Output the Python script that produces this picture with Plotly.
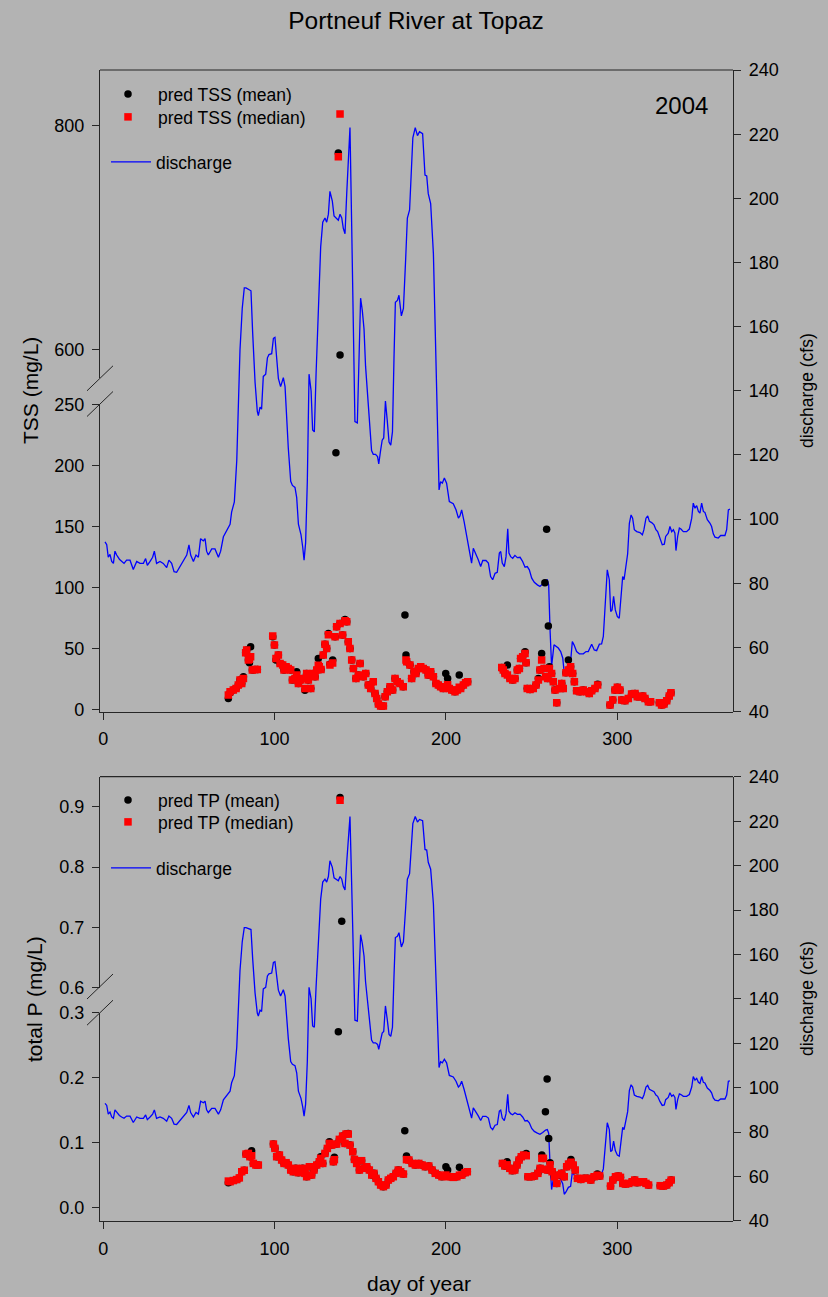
import plotly.graph_objects as go

W, H = 828, 1297


def px(x):
    return x / W


def py(y):
    return 1 - y / H


# ---------------- data ----------------
q_day = [1.0, 2.0, 2.9, 3.9, 4.9, 5.9, 6.8, 7.8, 9.4, 10.7, 12.1, 13.6, 15.6, 17.5, 19.5, 21.4, 23.4, 24.7,
         25.7, 27.3, 28.8, 29.8, 31.1, 33.1, 35.0, 37.0, 38.3, 39.9, 41.3, 42.8, 44.8, 46.7, 48.7, 50.0, 51.0,
         52.6, 54.1, 55.5, 56.8, 58.4, 59.4, 60.3, 61.3, 63.3, 65.2, 67.2, 68.5, 70.1, 72.0, 74.0, 74.9, 76.5,
         77.9, 78.8, 79.8, 81.1, 82.3, 83.3, 86.2, 87.2, 88.6, 89.9, 90.5, 91.5, 92.4, 93.4, 94.8, 95.8, 96.7,
         98.3, 99.3, 100.2, 101.2, 102.2, 103.5, 105.1, 106.1, 107.0, 108.0, 109.4, 110.4, 111.9, 112.9, 113.9,
         115.4, 116.4, 117.2, 118.1, 119.1, 120.1, 121.3, 122.2, 123.2, 124.2, 125.5, 126.9, 128.1, 129.4,
         130.4, 131.4, 132.3, 133.7, 134.7, 135.6, 137.2, 138.2, 139.2, 140.1, 141.1, 142.1, 143.0, 144.0,
         145.0, 146.0, 146.9, 148.3, 149.3, 150.2, 151.2, 152.2, 153.1, 154.3, 155.6, 156.6, 157.6, 158.9,
         160.1, 160.8, 161.8, 162.8, 163.7, 164.7, 165.7, 166.8, 167.8, 168.8, 169.7, 170.5, 171.7, 172.6,
         174.0, 175.2, 176.5, 177.5, 178.8, 179.8, 180.7, 182.1, 183.4, 184.6, 186.4, 187.8, 188.8, 189.7,
         191.1, 192.7, 193.6, 194.6, 195.0, 196.0, 196.9, 197.9, 199.1, 200.4, 202.0, 204.3, 205.9, 207.3,
         208.2, 209.2, 210.6, 212.1, 213.7, 215.0, 216.0, 217.6, 218.9, 220.3, 221.5, 223.4, 224.8, 226.1,
         227.3, 228.7, 230.0, 231.2, 232.0, 232.9, 234.1, 235.1, 236.1, 236.8, 237.8, 239.0, 240.3, 241.7,
         243.3, 244.8, 246.2, 247.5, 248.7, 250.1, 251.6, 253.4, 254.9, 256.5, 258.2, 259.2, 260.0, 260.8,
         261.7, 263.1, 264.3, 265.6, 267.0, 268.2, 269.1, 270.1, 271.5, 272.8, 273.8, 274.8, 276.3, 277.9,
         280.2, 281.8, 283.1, 285.1, 286.6, 288.0, 289.6, 290.9, 291.9, 292.9, 294.2, 295.4, 296.2, 297.0,
         297.9, 298.9, 300.1, 301.2, 302.2, 303.2, 304.0, 304.9, 306.1, 307.1, 308.1, 309.0, 310.0, 311.4,
         313.3, 314.7, 315.6, 316.8, 317.8, 318.8, 320.1, 321.5, 322.6, 323.6, 325.0, 326.3, 327.5, 328.3,
         329.8, 330.8, 331.8, 332.8, 333.7, 334.3, 335.3, 336.3, 337.2, 338.6, 340.5, 342.1, 343.5, 344.4,
         345.4, 346.4, 347.4, 348.3, 349.3, 350.3, 351.2, 352.6, 354.2, 355.1, 356.1, 357.1, 359.0, 360.4,
         362.9, 363.9, 364.9, 365.8]
q_cfs = [92.9, 92.0, 88.1, 89.0, 86.8, 86.2, 90.0, 88.8, 87.5, 86.8, 86.2, 87.2, 87.2, 84.3, 86.8, 86.2, 86.2,
         87.7, 85.6, 86.8, 88.1, 90.0, 86.2, 86.8, 86.2, 84.9, 87.2, 86.2, 83.6, 83.4, 85.2, 86.8, 88.8, 92.0,
         88.8, 86.8, 88.8, 88.1, 93.9, 93.2, 93.9, 90.0, 88.8, 90.7, 90.7, 88.1, 90.0, 94.5, 96.4, 98.4, 102.2,
         105.4, 118.2, 137.5, 152.8, 165.7, 172.1, 172.1, 171.2, 158.0, 142.6, 133.6, 132.3, 134.9, 134.3,
         144.5, 145.2, 150.3, 151.3, 151.6, 156.4, 156.7, 150.3, 143.9, 141.3, 144.1, 141.3, 131.1, 122.1,
         111.8, 110.5, 109.9, 106.7, 98.4, 95.2, 91.3, 87.2, 92.6, 111.8, 145.2, 140.0, 127.8, 127.2, 145.2,
         165.7, 184.9, 192.6, 193.9, 192.6, 195.1, 202.2, 199.2, 194.5, 193.9, 193.2, 195.1, 193.9, 190.7,
         189.0, 201.5, 210.5, 222.1, 191.3, 156.7, 130.4, 130.0, 150.3, 168.9, 165.0, 159.3, 147.7, 137.5,
         127.2, 121.4, 120.2, 120.2, 119.5, 117.2, 121.1, 124.6, 125.3, 136.8, 131.1, 124.0, 123.1, 127.2,
         150.3, 167.6, 168.2, 169.8, 163.4, 165.7, 181.0, 193.9, 196.4, 208.0, 218.9, 222.1, 219.6, 220.8,
         220.2, 207.3, 207.0, 201.5, 198.4, 182.8, 164.1, 141.3, 127.8, 109.1, 111.7, 111.2, 112.8, 111.2,
         105.5, 104.8, 102.9, 100.3, 101.0, 102.9, 99.3, 94.6, 90.4, 86.3, 90.9, 89.2, 87.3, 85.2, 87.1, 87.1,
         86.3, 82.1, 81.1, 83.1, 83.4, 89.4, 89.9, 86.3, 85.2, 88.3, 97.0, 89.4, 88.3, 87.8, 88.7, 88.0, 88.1,
         86.8, 85.0, 85.2, 84.2, 81.6, 80.3, 79.5, 79.0, 79.8, 80.9, 81.1, 79.5, 65.5, 54.1, 60.8, 60.3, 59.8,
         58.7, 56.7, 52.0, 53.0, 55.1, 55.6, 61.8, 60.8, 58.7, 58.0, 58.0, 58.7, 58.7, 61.0, 59.2, 59.0, 61.0,
         61.1, 63.4, 74.3, 84.2, 81.1, 71.2, 71.7, 75.9, 71.7, 69.6, 69.1, 76.9, 82.1, 81.1, 84.2, 89.2, 98.7,
         101.3, 100.3, 96.7, 96.1, 95.8, 95.1, 96.7, 100.3, 101.0, 99.3, 98.9, 98.2, 96.7, 96.1, 93.7, 92.0,
         92.2, 94.6, 95.6, 97.7, 96.1, 96.7, 95.6, 90.2, 94.6, 97.2, 96.9, 96.1, 96.1, 96.9, 100.3, 105.0,
         103.4, 104.2, 102.4, 101.9, 105.0, 102.4, 102.1, 99.8, 98.7, 97.7, 95.4, 94.4, 94.1, 94.9, 94.9, 96.7,
         102.9, 103.1]

# TSS predictions (mg/L): day, median, mean
tss_day = [73.0, 74.0, 75.9, 77.5, 78.8, 79.8, 80.8, 81.8, 83.1, 83.7, 84.7, 85.3, 86.0, 87.0, 88.6, 89.9,
           98.9, 99.9, 100.8, 102.2, 103.2, 104.7, 105.5, 106.7, 108.0, 109.4, 110.4, 111.9, 112.9, 113.9,
           115.2, 116.4, 117.7, 118.7, 119.7, 121.1, 122.6, 123.6, 124.6, 125.5, 126.1, 127.1, 128.4, 129.4,
           130.4, 131.4, 132.3, 133.9, 135.3, 136.2, 138.2, 139.7, 141.1, 142.1, 143.0, 144.0, 145.0, 146.0,
           147.5, 148.9, 149.9, 151.8, 153.2, 154.7, 156.1, 157.6, 158.6, 159.6, 160.6, 161.9, 163.5, 164.5,
           165.8, 167.4, 168.9, 170.3, 171.6, 173.2, 175.1, 176.7, 177.1, 179.0, 180.0, 181.4, 182.5, 183.9,
           185.3, 186.8, 188.4, 189.7, 191.1, 192.7, 194.2, 195.6, 196.9, 198.5, 199.9, 201.0, 202.0, 203.4,
           205.3, 206.7, 207.8, 208.6, 210.2, 211.5, 212.7, 232.6, 233.5, 234.5, 235.9, 237.4, 239.0, 240.3,
           241.7, 242.9, 243.6, 244.8, 246.2, 246.8, 247.5, 249.1, 251.0, 252.6, 254.0, 254.9, 255.9, 257.3,
           258.2, 259.4, 260.4, 261.7, 262.7, 263.7, 264.7, 266.2, 267.6, 268.5, 270.1, 271.5, 272.8, 274.0,
           275.0, 276.3, 278.3, 280.2, 282.2, 283.7, 285.1, 287.0, 288.6, 295.8, 297.4, 298.7, 300.1, 301.6,
           302.6, 304.5, 306.5, 308.4, 310.4, 311.7, 313.3, 314.9, 316.2, 318.2, 319.5, 324.6, 325.9, 327.3,
           328.9, 330.4, 331.4]
tss_median = [11.7, 14.4, 15.8, 17.1, 19.9, 24.0, 21.2, 25.3, 46.3, 48.5, 40.3, 41.0, 43.1, 32.1, 32.7, 32.7,
              60.0, 52.6, 41.7, 44.4, 37.6, 36.2, 32.1, 34.9, 33.5, 32.1, 24.0, 25.3, 28.0, 21.2, 24.0, 25.3,
              17.1, 29.4, 24.0, 17.1, 29.4, 26.7, 32.1, 36.0, 34.9, 32.7, 44.4, 53.4, 49.9, 61.0, 36.2, 38.0,
              59.4, 67.6, 70.4, 60.8, 72.5, 71.7, 55.4, 49.9, 40.3, 33.5, 25.3, 28.0, 37.6, 26.7, 29.4, 19.9,
              17.1, 22.6, 13.0, 8.9, 4.3, 2.6, 2.6, 10.3, 14.4, 18.5, 15.8, 25.3, 22.6, 21.2, 18.5, 40.3, 38.9,
              36.2, 25.3, 30.8, 29.4, 33.5, 34.9, 33.5, 32.1, 28.0, 30.8, 26.7, 21.2, 19.9, 18.5, 17.1, 18.5,
              20.0, 17.1, 15.8, 14.4, 15.8, 18.0, 17.1, 19.9, 21.8, 22.6, 34.3, 32.1, 29.4, 28.0, 25.3, 24.0,
              25.3, 32.1, 33.5, 41.7, 43.1, 45.8, 38.1, 17.1, 16.3, 17.1, 19.9, 24.0, 32.1, 40.3, 33.5, 26.7,
              25.3, 33.5, 29.4, 22.6, 15.8, 5.4, 17.1, 21.2, 17.1, 30.0, 32.1, 34.9, 29.4, 22.6, 15.2, 14.4,
              15.8, 14.4, 13.0, 15.2, 17.1, 19.9, 3.5, 7.6, 15.8, 18.0, 15.8, 7.6, 7.0, 8.9, 12.5, 13.0, 10.3,
              10.3, 10.8, 8.9, 6.2, 6.2, 5.4, 3.5, 4.3, 7.0, 10.8, 13.6]
tss_mean = [8.9, 13.5, 15.8, 17.1, 19.9, 24.0, 21.2, 26.7, 46.3, 48.5, 40.3, 38.1, 51.2, 32.1, 32.7, 32.7,
            59.4, 52.6, 40.3, 44.4, 37.6, 36.2, 32.1, 34.9, 33.5, 32.1, 24.0, 25.3, 30.8, 21.2, 24.0, 25.3,
            15.5, 29.4, 24.0, 17.1, 29.4, 26.7, 32.1, 41.7, 34.9, 32.7, 44.4, 53.4, 49.9, 62.2, 37.0, 40.3,
            59.4, 67.6, 70.4, 60.8, 73.6, 71.7, 55.4, 49.9, 40.3, 33.5, 25.3, 28.0, 37.6, 26.7, 29.4, 19.9,
            17.1, 22.6, 13.0, 8.9, 4.3, 2.6, 2.6, 10.3, 14.4, 18.5, 15.8, 25.3, 22.6, 21.2, 18.5, 44.4, 38.9,
            36.2, 25.3, 30.8, 29.4, 33.5, 34.9, 33.5, 32.1, 28.0, 30.8, 26.7, 21.2, 19.9, 18.5, 17.1, 29.4,
            25.3, 17.1, 15.8, 14.4, 15.8, 28.0, 17.1, 19.9, 21.8, 22.6, 34.3, 32.1, 29.4, 36.2, 25.3, 24.0,
            25.3, 32.1, 33.5, 41.7, 43.1, 47.2, 38.1, 17.1, 16.3, 17.1, 19.9, 25.3, 32.1, 45.8, 33.5, 26.7,
            25.3, 34.9, 29.4, 22.6, 15.8, 5.4, 17.1, 21.2, 17.1, 30.0, 40.3, 34.9, 29.4, 22.6, 15.2, 14.4,
            15.8, 14.4, 13.0, 15.2, 17.1, 20.5, 3.5, 7.6, 15.8, 18.0, 15.8, 7.6, 7.0, 8.9, 12.5, 13.0, 10.3,
            10.3, 10.8, 8.9, 6.2, 6.2, 5.4, 3.5, 4.3, 7.0, 10.8, 13.6]
# isolated predictions (outliers)
tss_mean_x_day = [135.8, 137.2, 138.2, 176.1, 257.8, 258.8, 259.8]
tss_mean_x_val = [210.4, 775.8, 594.9, 77.2, 103.7, 147.6, 68.2]
tss_med_x_day = [137.2, 138.2]
tss_med_x_val = [772.3, 810.5]

# total P predictions (mg/L): day, median, mean
tp_day = [73.0, 74.0, 75.9, 77.9, 79.4, 80.8, 82.3, 83.3, 84.7, 85.6, 86.6, 87.6, 89.1, 90.5, 99.3, 100.2,
          101.2, 102.8, 104.1, 105.5, 106.7, 108.0, 109.4, 110.9, 112.3, 113.9, 115.2, 116.4, 117.7, 118.7,
          120.3, 121.6, 123.0, 124.6, 126.1, 126.9, 128.1, 129.4, 130.8, 132.0, 133.3, 134.3, 134.9, 136.2,
          137.8, 139.7, 141.1, 141.7, 143.0, 144.0, 145.6, 146.6, 147.9, 149.5, 150.8, 152.2, 153.8, 155.3,
          156.7, 158.0, 159.2, 160.6, 161.9, 163.5, 165.0, 166.4, 167.8, 169.3, 170.9, 172.2, 173.6, 175.2,
          177.0, 178.4, 180.3, 182.2, 184.2, 186.1, 188.0, 190.0, 191.9, 193.8, 195.8, 197.7, 200.0, 201.0,
          202.5, 204.4, 206.4, 207.9, 209.3, 211.2, 212.5, 233.0, 234.4, 235.7, 237.3, 238.8, 240.2, 241.5,
          242.7, 244.0, 245.4, 246.9, 247.9, 249.8, 251.7, 253.7, 255.0, 256.0, 256.9, 258.1, 259.5, 260.8,
          262.0, 263.3, 264.7, 266.2, 267.6, 269.1, 270.5, 271.6, 273.0, 274.3, 275.5, 276.8, 278.8, 280.7,
          282.6, 284.6, 286.5, 288.4, 289.8, 296.1, 297.5, 299.0, 300.6, 301.9, 303.3, 304.8, 306.8, 308.7,
          310.2, 311.6, 313.5, 315.4, 316.8, 318.3, 325.1, 327.0, 328.9, 330.3, 331.5]
tp_median = [0.0410, 0.0400, 0.0418, 0.0433, 0.0459, 0.0554, 0.0577, 0.0826, 0.0836, 0.0785, 0.0800, 0.0682,
             0.0657, 0.0657, 0.0980, 0.0913, 0.0785, 0.0811, 0.0734, 0.0682, 0.0693, 0.0657, 0.0580, 0.0554,
             0.0606, 0.0539, 0.0570, 0.0606, 0.0529, 0.0477, 0.0631, 0.0503, 0.0580, 0.0657, 0.0708, 0.0760,
             0.0682, 0.0836, 0.0913, 0.0990, 0.0964, 0.0708, 0.0740, 0.0980, 0.1052, 0.1103, 0.0990, 0.1134,
             0.1134, 0.0964, 0.0862, 0.0744, 0.0682, 0.0580, 0.0724, 0.0606, 0.0631, 0.0580, 0.0503, 0.0529,
             0.0452, 0.0400, 0.0349, 0.0324, 0.0349, 0.0426, 0.0452, 0.0477, 0.0529, 0.0580, 0.0554, 0.0518,
             0.0740, 0.0734, 0.0682, 0.0657, 0.0682, 0.0657, 0.0631, 0.0642, 0.0580, 0.0529, 0.0503, 0.0477,
             0.0503, 0.0480, 0.0477, 0.0467, 0.0477, 0.0500, 0.0503, 0.0539, 0.0554, 0.0682, 0.0642, 0.0660,
             0.0606, 0.0570, 0.0580, 0.0657, 0.0734, 0.0785, 0.0811, 0.0800, 0.0477, 0.0477, 0.0488, 0.0529,
             0.0606, 0.0760, 0.0759, 0.0590, 0.0580, 0.0660, 0.0554, 0.0477, 0.0374, 0.0503, 0.0529, 0.0477,
             0.0631, 0.0672, 0.0700, 0.0657, 0.0580, 0.0452, 0.0436, 0.0452, 0.0452, 0.0426, 0.0477, 0.0500,
             0.0488, 0.0333, 0.0426, 0.0477, 0.0488, 0.0467, 0.0374, 0.0364, 0.0374, 0.0400, 0.0426, 0.0385,
             0.0400, 0.0400, 0.0374, 0.0349, 0.0339, 0.0333, 0.0349, 0.0385, 0.0426]
tp_mean = [0.0385, 0.0400, 0.0418, 0.0433, 0.0459, 0.0554, 0.0577, 0.0826, 0.0836, 0.0785, 0.0877, 0.0682,
           0.0657, 0.0657, 0.0980, 0.0913, 0.0785, 0.0811, 0.0734, 0.0682, 0.0693, 0.0657, 0.0580, 0.0554,
           0.0606, 0.0539, 0.0570, 0.0606, 0.0529, 0.0477, 0.0631, 0.0503, 0.0580, 0.0657, 0.0708, 0.0785,
           0.0682, 0.0836, 0.0913, 0.1015, 0.0964, 0.0708, 0.0775, 0.0980, 0.1052, 0.1103, 0.0990, 0.1134,
           0.1144, 0.0964, 0.0862, 0.0744, 0.0682, 0.0580, 0.0724, 0.0606, 0.0631, 0.0580, 0.0503, 0.0529,
           0.0452, 0.0400, 0.0349, 0.0324, 0.0349, 0.0426, 0.0452, 0.0477, 0.0529, 0.0580, 0.0554, 0.0518,
           0.0795, 0.0734, 0.0682, 0.0657, 0.0682, 0.0657, 0.0631, 0.0642, 0.0580, 0.0529, 0.0503, 0.0477,
           0.0631, 0.0580, 0.0477, 0.0467, 0.0477, 0.0621, 0.0503, 0.0539, 0.0554, 0.0682, 0.0642, 0.0708,
           0.0606, 0.0570, 0.0580, 0.0657, 0.0734, 0.0785, 0.0811, 0.0836, 0.0477, 0.0477, 0.0488, 0.0529,
           0.0606, 0.0811, 0.0759, 0.0590, 0.0580, 0.0693, 0.0554, 0.0477, 0.0374, 0.0503, 0.0529, 0.0477,
           0.0631, 0.0672, 0.0744, 0.0657, 0.0580, 0.0452, 0.0436, 0.0452, 0.0452, 0.0426, 0.0477, 0.0518,
           0.0488, 0.0333, 0.0426, 0.0477, 0.0488, 0.0467, 0.0374, 0.0364, 0.0374, 0.0400, 0.0426, 0.0385,
           0.0400, 0.0400, 0.0374, 0.0349, 0.0339, 0.0333, 0.0349, 0.0385, 0.0426]
tp_mean_x_day = [137.2, 138.2, 139.2, 176.0, 258.1, 259.1, 260.0]
tp_mean_x_val = [0.2708, 0.9156, 0.710, 0.1185, 0.1477, 0.1980, 0.1067]
tp_med_x_day = [138.2]
tp_med_x_val = [0.911]

x_ticks = [0, 100, 200, 300]
tss_low_ticks = [0, 50, 100, 150, 200, 250]
tss_high_ticks = [600, 800]
tp_low_ticks = [0.0, 0.1, 0.2, 0.3]
tp_high_ticks = [0.6, 0.7, 0.8, 0.9]
q_ticks = [40, 60, 80, 100, 120, 140, 160, 180, 200, 220, 240]

# ---------------- styling ----------------
FONT = "Liberation Sans, Arial, Helvetica, sans-serif"
BG = "#b3b3b3"
AX = "#262626"
BLUE = "#0000ff"
MS = 7.5


def split(days, vals, thr):
    lo_d, lo_v, hi_d, hi_v = [], [], [], []
    for d, v in zip(days, vals):
        if v >= thr:
            hi_d.append(d)
            hi_v.append(v)
        else:
            lo_d.append(d)
            lo_v.append(v)
    return lo_d, lo_v, hi_d, hi_v


fig = go.Figure()


def add_panel(xa, ya_q, ya_lo, ya_hi, days, med, mean, mx_d, mx_v, dx_d, dx_v, thr, label,
              leg_mean, leg_med, leg_q):
    # discharge line
    fig.add_trace(go.Scatter(x=q_day, y=q_cfs, mode="lines", name="discharge",
                             line=dict(color=BLUE, width=1.3), xaxis=xa, yaxis=ya_q,
                             legend=leg_q, hoverinfo="skip"))
    all_mean_d = days + mx_d
    all_mean_v = mean + mx_v
    all_med_d = days + dx_d
    all_med_v = med + dx_v
    m_lo_d, m_lo_v, m_hi_d, m_hi_v = split(all_mean_d, all_mean_v, thr)
    d_lo_d, d_lo_v, d_hi_d, d_hi_v = split(all_med_d, all_med_v, thr)
    mean_marker = dict(symbol="circle", color="black", size=MS, line=dict(width=0))
    med_marker = dict(symbol="square", color="#ff0000", size=MS, line=dict(width=0))
    fig.add_trace(go.Scatter(x=m_lo_d, y=m_lo_v, mode="markers", name=f"pred {label} (mean)",
                             marker=mean_marker, xaxis=xa, yaxis=ya_lo, legend=leg_mean))
    fig.add_trace(go.Scatter(x=d_lo_d, y=d_lo_v, mode="markers", name=f"pred {label} (median)",
                             marker=med_marker, xaxis=xa, yaxis=ya_lo, legend=leg_med))
    fig.add_trace(go.Scatter(x=m_hi_d, y=m_hi_v, mode="markers", showlegend=False,
                             marker=mean_marker, xaxis=xa, yaxis=ya_hi))
    fig.add_trace(go.Scatter(x=d_hi_d, y=d_hi_v, mode="markers", showlegend=False,
                             marker=med_marker, xaxis=xa, yaxis=ya_hi))


add_panel("x", "y", "y2", "y3", tss_day, tss_median, tss_mean, tss_mean_x_day, tss_mean_x_val,
          tss_med_x_day, tss_med_x_val, 400, "TSS", "legend", "legend2", "legend3")
add_panel("x2", "y4", "y5", "y6", tp_day, tp_median, tp_mean, tp_mean_x_day, tp_mean_x_val,
          tp_med_x_day, tp_med_x_val, 0.45, "TP", "legend4", "legend5", "legend6")

tickfont = dict(family=FONT, size=18, color="black")
common_axis = dict(showline=True, linecolor=AX, linewidth=1.2, ticks="outside", ticklen=7,
                   tickwidth=1.2, tickcolor=AX, showgrid=False, zeroline=False, tickfont=tickfont,
                   ticklabelstandoff=4, automargin=False)

x_dom = [px(100), px(733)]
x_range = [-1.93, 367.6]

top_lo = [py(711.7), py(404)]
top_hi = [py(378.3), py(70)]
top_all = [py(711.7), py(70)]
bot_lo = [py(1221), py(1012.7)]
bot_hi = [py(987.7), py(776.7)]
bot_all = [py(1221), py(776.7)]

fig.update_layout(
    width=W, height=H, autosize=False,
    margin=dict(l=0, r=0, t=0, b=0, autoexpand=False),
    paper_bgcolor=BG, plot_bgcolor="rgba(0,0,0,0)",
    font=dict(family=FONT, color="black"),
    showlegend=True,
    title=dict(text="Portneuf River at Topaz", x=px(416), xanchor="center", y=py(20), yanchor="middle",
               xref="paper", yref="paper", font=dict(family=FONT, size=24.5, color="black")),
    xaxis=dict(common_axis, domain=x_dom, range=x_range, anchor="y2", tickvals=x_ticks),
    yaxis=dict(common_axis, domain=top_all, range=[39.95, 240.05], anchor="x", side="right",
               tickvals=q_ticks),
    yaxis2=dict(common_axis, domain=top_lo, range=[-2, 250.3], anchor="x", tickvals=tss_low_ticks),
    yaxis3=dict(common_axis, domain=top_hi, range=[574, 850], anchor="x", tickvals=tss_high_ticks),
    xaxis2=dict(common_axis, domain=x_dom, range=x_range, anchor="y5", tickvals=x_ticks),
    yaxis4=dict(common_axis, domain=bot_all, range=[39.95, 240.05], anchor="x2", side="right",
                tickvals=q_ticks),
    yaxis5=dict(common_axis, domain=bot_lo, range=[-0.0205, 0.3003], anchor="x2", tickvals=tp_low_ticks,
                tickformat=".1f"),
    yaxis6=dict(common_axis, domain=bot_hi, range=[0.5997, 0.95], anchor="x2", tickvals=tp_high_ticks,
                tickformat=".1f"),
)

leg_common = dict(bgcolor="rgba(0,0,0,0)", borderwidth=0, font=dict(family=FONT, size=17.5, color="black"),
                  xanchor="left", yanchor="top", tracegroupgap=0, itemclick=False, itemdoubleclick=False)
fig.update_layout(
    legend=dict(leg_common, x=px(98), y=py(76), itemwidth=50),
    legend2=dict(leg_common, x=px(98), y=py(99), itemwidth=50),
    legend3=dict(leg_common, x=px(106), y=py(144), itemwidth=40),
    legend4=dict(leg_common, x=px(98), y=py(782), itemwidth=50),
    legend5=dict(leg_common, x=px(98), y=py(804), itemwidth=50),
    legend6=dict(leg_common, x=px(106), y=py(850), itemwidth=40),
)

# frame top lines and axis-break marks
shapes = []
for ytop in (70, 776.7):
    shapes.append(dict(type="line", xref="paper", yref="paper", x0=px(100), x1=px(733), y0=py(ytop),
                       y1=py(ytop), line=dict(color=AX, width=1.2)))
for yc in (378.3, 404, 986.5, 1012.7):
    shapes.append(dict(type="line", xref="paper", yref="paper", x0=px(87), x1=px(113), y0=py(yc + 12.5),
                       y1=py(yc - 12.5), line=dict(color=AX, width=1)))
fig.update_layout(shapes=shapes)

ann = []
ann.append(dict(text="2004", x=px(681), y=py(106), xref="paper", yref="paper", showarrow=False,
                font=dict(family=FONT, size=24, color="black"), xanchor="center", yanchor="middle"))
ann.append(dict(text="TSS (mg/L)", x=px(30), y=py(391), xref="paper", yref="paper", showarrow=False,
                textangle=-90, font=dict(family=FONT, size=21, color="black"), xanchor="center",
                yanchor="middle"))
ann.append(dict(text="total P (mg/L)", x=px(34), y=py(999), xref="paper", yref="paper", showarrow=False,
                textangle=-90, font=dict(family=FONT, size=21, color="black"), xanchor="center",
                yanchor="middle"))
for yc in (391, 999):
    ann.append(dict(text="discharge (cfs)", x=px(807), y=py(yc), xref="paper", yref="paper", showarrow=False,
                    textangle=-90, font=dict(family=FONT, size=17.5, color="black"), xanchor="center",
                    yanchor="middle"))
ann.append(dict(text="day of year", x=px(419), y=py(1283), xref="paper", yref="paper", showarrow=False,
                font=dict(family=FONT, size=21, color="black"), xanchor="center", yanchor="middle"))
fig.update_layout(annotations=ann)

# remove the default page margin so the 828x1297 figure fills the browser window exactly
fig.write_html("out.html", config={"displayModeBar": False},
               post_script="document.body.style.margin='0';document.body.style.overflow='hidden';")
